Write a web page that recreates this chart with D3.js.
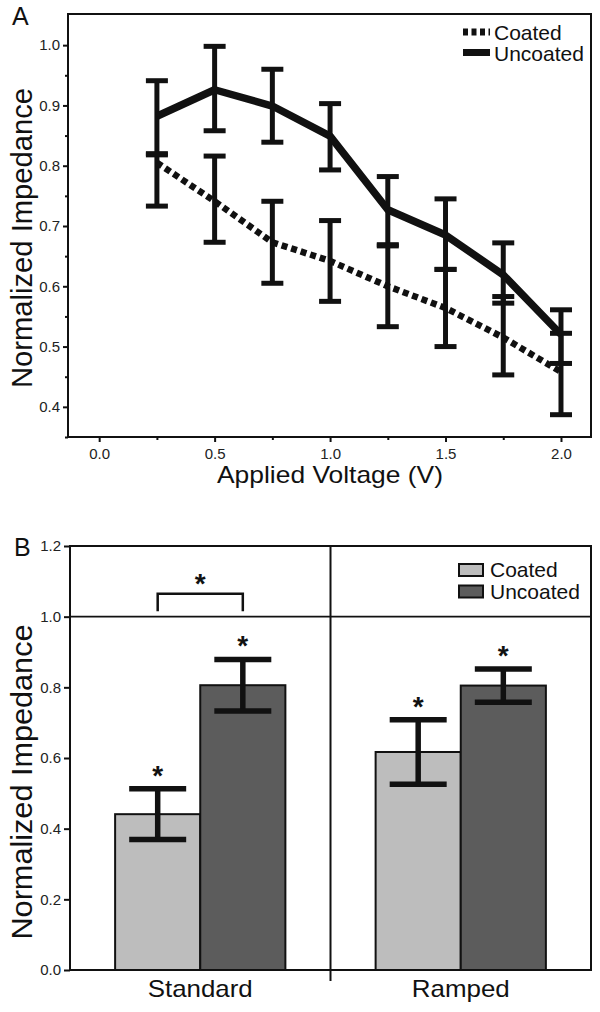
<!DOCTYPE html>
<html>
<head>
<meta charset="utf-8">
<script src="https://cdn.jsdelivr.net/npm/d3@7"></script>
<style>
  html, body { margin: 0; padding: 0; background: #fff; }
  svg { display: block; font-family: "Liberation Sans", Arial, Helvetica, sans-serif; }
</style>
</head>
<body>
<svg id="chart" width="600" height="1012"></svg>
<script>
// ---------- Panel A data ----------
const voltages = [0.25, 0.5, 0.75, 1.0, 1.25, 1.5, 1.75, 2.0];
const coatedMean = [0.805, 0.741, 0.673, 0.642, 0.600, 0.564, 0.515, 0.458];
const coatedLow  = [0.733, 0.673, 0.605, 0.575, 0.533, 0.500, 0.453, 0.387];
const coatedHigh = [0.820, 0.816, 0.741, 0.709, 0.667, 0.628, 0.583, 0.522];
const uncoatedMean = [0.882, 0.926, 0.899, 0.849, 0.727, 0.685, 0.619, 0.520];
const uncoatedLow  = [0.818, 0.858, 0.839, 0.793, 0.669, 0.628, 0.572, 0.472];
const uncoatedHigh = [0.941, 0.998, 0.960, 0.903, 0.782, 0.745, 0.672, 0.561];
const xTicksA = [0, 0.5, 1.0, 1.5, 2.0];
const xMinorA = [0.25, 0.75, 1.25, 1.75];
const yTicksA = [0.4, 0.5, 0.6, 0.7, 0.8, 0.9, 1.0];
const yMinorA = [0.35, 0.45, 0.55, 0.65, 0.75, 0.85, 0.95];
const seriesNames = ["Coated", "Uncoated"];

// ---------- Panel B data ----------
const groups = ["Standard", "Ramped"];
const barCoated = [0.441, 0.617];
const barCoatedErr = [0.072, 0.091];
const barUncoated = [0.806, 0.805];
const barUncoatedErr = [0.073, 0.047];
const yTicksB = [0.0, 0.2, 0.4, 0.6, 0.8, 1.0, 1.2];

const svg = d3.select("#chart");
const ink = "#111";

// ================= PANEL A =================
const A = { left: 68, right: 591, top: 15, bottom: 437 };
const xA = d3.scaleLinear().domain([-0.135, 2.13]).range([A.left, A.right]);
const yA = d3.scaleLinear().domain([0.35, 1.05]).range([A.bottom, A.top]);
const gA = svg.append("g");

// frame
gA.append("rect").attr("x", A.left).attr("y", A.top - 1)
  .attr("width", A.right - A.left).attr("height", A.bottom - A.top + 1)
  .attr("fill", "none").attr("stroke", ink).attr("stroke-width", 2);

// axes
const axA_y = gA.append("g").attr("transform", `translate(${A.left},0)`)
  .call(d3.axisLeft(yA).tickValues(yTicksA).tickFormat(d3.format(".1f")).tickSize(5).tickPadding(3));
const axA_ym = gA.append("g").attr("transform", `translate(${A.left},0)`)
  .call(d3.axisLeft(yA).tickValues(yMinorA).tickFormat("").tickSize(3));
const axA_x = gA.append("g").attr("transform", `translate(0,${A.bottom})`)
  .call(d3.axisBottom(xA).tickValues(xTicksA).tickFormat(d3.format(".1f")).tickSize(5).tickPadding(6));
const axA_xm = gA.append("g").attr("transform", `translate(0,${A.bottom})`)
  .call(d3.axisBottom(xA).tickValues(xMinorA).tickFormat("").tickSize(3));
[axA_y, axA_ym, axA_x, axA_xm].forEach(ax => {
  ax.select(".domain").remove();
  ax.selectAll("line").attr("stroke", ink).attr("stroke-width", 2);
  ax.selectAll("text").attr("font-size", 15).attr("fill", "#222")
    .attr("font-family", "Liberation Sans, Arial, sans-serif");
});

// error bars
function errBars(g, xs, lo, hi, xScale, yScale, cap, sw) {
  const eb = g.append("g").attr("stroke", ink).attr("stroke-width", sw).attr("fill", "none");
  xs.forEach((x, i) => {
    const cx = xScale(x);
    eb.append("line").attr("x1", cx).attr("x2", cx).attr("y1", yScale(lo[i])).attr("y2", yScale(hi[i]));
    eb.append("line").attr("x1", cx - cap / 2).attr("x2", cx + cap / 2).attr("y1", yScale(lo[i])).attr("y2", yScale(lo[i]));
    eb.append("line").attr("x1", cx - cap / 2).attr("x2", cx + cap / 2).attr("y1", yScale(hi[i])).attr("y2", yScale(hi[i]));
  });
}
errBars(gA, voltages, uncoatedLow, uncoatedHigh, xA, yA, 22, 5);
errBars(gA, voltages, coatedLow, coatedHigh, xA, yA, 22, 5);

const lineA = d3.line().x(d => xA(d[0])).y(d => yA(d[1]));
gA.append("path").datum(voltages.map((v, i) => [v, uncoatedMean[i]]))
  .attr("d", lineA).attr("fill", "none").attr("stroke", ink)
  .attr("stroke-width", 7.5).attr("stroke-linejoin", "round");
gA.append("path").datum(voltages.map((v, i) => [v, coatedMean[i]]))
  .attr("d", lineA).attr("fill", "none").attr("stroke", ink)
  .attr("stroke-width", 6.5).attr("stroke-dasharray", "6,4");

// legend A
const legA = gA.append("g");
legA.append("line").attr("x1", 463).attr("x2", 490).attr("y1", 32).attr("y2", 32)
  .attr("stroke", ink).attr("stroke-width", 7).attr("stroke-dasharray", "5,3.5");
legA.append("line").attr("x1", 463).attr("x2", 490).attr("y1", 52.5).attr("y2", 52.5)
  .attr("stroke", ink).attr("stroke-width", 7);
legA.selectAll("text").data(seriesNames).join("text")
  .attr("x", 494).attr("y", (d, i) => i === 0 ? 39.5 : 60.5)
  .attr("font-size", 21).attr("fill", ink).text(d => d);

// labels A
svg.append("text").attr("x", 12).attr("y", 25).attr("font-size", 25).attr("fill", ink).text("A");
svg.append("text").attr("x", 330).attr("y", 483).attr("text-anchor", "middle")
  .attr("font-size", 24).attr("textLength", 226).attr("lengthAdjust", "spacingAndGlyphs")
  .attr("fill", ink).text("Applied Voltage (V)");
svg.append("text").attr("transform", "translate(32,238) rotate(-90)").attr("text-anchor", "middle")
  .attr("font-size", 29).attr("textLength", 300).attr("lengthAdjust", "spacingAndGlyphs")
  .attr("fill", ink).text("Normalized Impedance");

// ================= PANEL B =================
const B = { left: 70, right: 591, top: 546, bottom: 970 };
const x0 = d3.scaleBand().domain(groups).range([B.left, B.right]).paddingInner(0).paddingOuter(0);
const x1 = d3.scaleBand().domain(seriesNames).range([0, x0.bandwidth()]).paddingInner(0).paddingOuter(0.53);
const yB = d3.scaleLinear().domain([0, 1.2]).range([B.bottom, B.top]);
const gB = svg.append("g");
const barFill = { Coated: "#bdbdbd", Uncoated: "#5c5c5c" };

const barData = [];
groups.forEach((g, i) => {
  barData.push({ group: g, series: "Coated", v: barCoated[i], e: barCoatedErr[i] });
  barData.push({ group: g, series: "Uncoated", v: barUncoated[i], e: barUncoatedErr[i] });
});

// frame + reference line + divider
gB.append("rect").attr("x", B.left).attr("y", B.top)
  .attr("width", B.right - B.left).attr("height", B.bottom - B.top)
  .attr("fill", "none").attr("stroke", ink).attr("stroke-width", 2);
gB.append("line").attr("x1", B.left).attr("x2", B.right).attr("y1", yB(1.0)).attr("y2", yB(1.0))
  .attr("stroke", ink).attr("stroke-width", 1.6);
const divX = x0("Ramped");
gB.append("line").attr("x1", divX).attr("x2", divX).attr("y1", B.top).attr("y2", B.bottom + 11)
  .attr("stroke", ink).attr("stroke-width", 2);

// bars
gB.selectAll("rect.bar").data(barData).join("rect").attr("class", "bar")
  .attr("x", d => x0(d.group) + x1(d.series))
  .attr("y", d => yB(d.v))
  .attr("width", x1.bandwidth())
  .attr("height", d => yB(0) - yB(d.v))
  .attr("fill", d => barFill[d.series])
  .attr("stroke", ink).attr("stroke-width", 2);

// error bars B
const ebB = gB.append("g").attr("stroke", ink).attr("stroke-width", 5.5);
barData.forEach(d => {
  const cx = x0(d.group) + x1(d.series) + x1.bandwidth() / 2;
  ebB.append("line").attr("x1", cx).attr("x2", cx).attr("y1", yB(d.v - d.e)).attr("y2", yB(d.v + d.e));
  [d.v - d.e, d.v + d.e].forEach(val => {
    ebB.append("line").attr("x1", cx - 28.5).attr("x2", cx + 28.5).attr("y1", yB(val)).attr("y2", yB(val));
  });
  gB.append("text").attr("x", cx).attr("y", yB(d.v + d.e) - 20 + 16)
    .attr("text-anchor", "middle").attr("font-size", 28).attr("font-weight", "bold")
    .attr("fill", ink).text("*");
});

// significance bracket
const cxS0 = x0("Standard") + x1("Coated") + x1.bandwidth() / 2;
const cxS1 = x0("Standard") + x1("Uncoated") + x1.bandwidth() / 2;
gB.append("path")
  .attr("d", `M${cxS0},${yB(1.015)}V${yB(1.065)}H${cxS1}V${yB(1.015)}`)
  .attr("fill", "none").attr("stroke", ink).attr("stroke-width", 2.5);
gB.append("text").attr("x", (cxS0 + cxS1) / 2).attr("y", yB(1.111) + 16)
  .attr("text-anchor", "middle").attr("font-size", 28).attr("font-weight", "bold")
  .attr("fill", ink).text("*");

// y axis B
const axB = gB.append("g").attr("transform", `translate(${B.left},0)`)
  .call(d3.axisLeft(yB).tickValues(yTicksB).tickFormat(d3.format(".1f")).tickSize(6).tickPadding(3));
axB.select(".domain").remove();
axB.selectAll("line").attr("stroke", ink).attr("stroke-width", 2);
axB.selectAll("text").attr("font-size", 15).attr("fill", "#222")
  .attr("font-family", "Liberation Sans, Arial, sans-serif");

// category labels
gB.selectAll("text.cat").data(groups).join("text").attr("class", "cat")
  .attr("x", d => x0(d) + x0.bandwidth() / 2).attr("y", 997)
  .attr("text-anchor", "middle").attr("font-size", 24)
  .attr("textLength", d => d === "Standard" ? 105 : 98).attr("lengthAdjust", "spacingAndGlyphs")
  .attr("fill", ink).text(d => d);

// legend B
const legB = gB.append("g");
seriesNames.forEach((s, i) => {
  legB.append("rect").attr("x", 459).attr("y", i === 0 ? 564 : 585.5)
    .attr("width", 24).attr("height", 12).attr("fill", barFill[s])
    .attr("stroke", ink).attr("stroke-width", 2);
  legB.append("text").attr("x", 490).attr("y", i === 0 ? 577 : 598.5)
    .attr("font-size", 21).attr("fill", ink).text(s);
});

// labels B
svg.append("text").attr("x", 14).attr("y", 555.5).attr("font-size", 25).attr("fill", ink).text("B");
svg.append("text").attr("transform", "translate(32,782) rotate(-90)").attr("text-anchor", "middle")
  .attr("font-size", 29).attr("textLength", 315).attr("lengthAdjust", "spacingAndGlyphs")
  .attr("fill", ink).text("Normalized Impedance");
</script>
</body>
</html>
